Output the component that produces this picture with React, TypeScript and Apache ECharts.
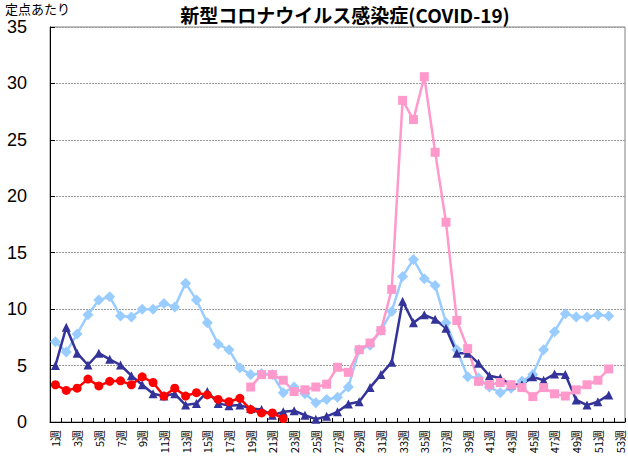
import React, { useEffect, useRef } from "react";
import * as echarts from "echarts";

const weeks: string[] = Array.from({ length: 53 }, (_, i) => `${i + 1}週`);

// light blue diamonds (weeks 1-52)
const seriesBlue: (number | null)[] = [
  7.1, 6.2, 7.8, 9.5, 10.8, 11.1, 9.4, 9.3, 10.0, 10.0, 10.5, 10.2, 12.3, 10.8, 8.8, 6.9, 6.4, 4.8, 4.2, 4.3,
  4.2, 2.6, 3.1, 2.5, 1.7, 2.0, 2.2, 3.1, 6.4, 6.8, 8.1, 9.8, 12.9, 14.4, 12.7, 12.1, 8.8, 6.4, 4.0, 3.9,
  3.1, 2.6, 3.0, 3.6, 4.2, 6.4, 8.0, 9.6, 9.3, 9.3, 9.5, 9.4, null,
];

// navy triangles (weeks 1-52)
const seriesNavy: (number | null)[] = [
  5.0, 8.4, 6.1, 5.05, 6.1, 5.55, 5.05, 4.1, 3.3, 2.5, 2.3, 2.5, 1.5, 1.65, 2.7, 1.65, 1.45, 1.5, 1.2, 1.1,
  0.6, 0.9, 1.0, 0.6, 0.25, 0.5, 0.9, 1.6, 1.8, 3.05, 4.2, 5.3, 10.7, 8.8, 9.5, 9.1, 8.3, 6.1, 6.1, 5.2,
  4.1, 3.9, 3.3, 3.3, 4.0, 3.7, 4.25, 4.2, 1.95, 1.5, 1.8, 2.4, null,
];

// pink squares (weeks 19-52)
const seriesPink: (number | null)[] = [
  null, null, null, null, null, null, null, null, null, null, null, null, null, null, null, null, null, null,
  3.1, 4.2, 4.2, 3.7, 2.7, 2.85, 3.1, 3.35, 4.85, 4.4, 6.4, 7.0, 8.1, 11.75, 28.5, 26.8, 30.6, 23.9, 17.7, 9.0,
  6.5, 3.6, 3.3, 3.5, 3.3, 3.05, 2.25, 3.05, 2.5, 2.3, 2.85, 3.3, 3.7, 4.7, null,
];

// red circles (weeks 1-22)
const seriesRed: (number | null)[] = [
  3.3, 2.8, 3.0, 3.8, 3.2, 3.6, 3.65, 3.3, 4.0, 3.5, 2.3, 3.0, 2.3, 2.6, 2.4, 2.0, 1.8, 2.1, 1.1, 0.8,
  0.8, 0.3,
];

const yTicks = [0, 5, 10, 15, 20, 25, 30, 35];

export default function App() {
  const ref = useRef<HTMLDivElement>(null);
  useEffect(() => {
    if (!ref.current) return;
    const chart = echarts.init(ref.current, null, { renderer: "svg" });
    const mk = (name: string, data: (number | null)[], color: string, symbol: string, size: number) => ({
      name,
      type: "line",
      data,
      symbol,
      symbolSize: size,
      showAllSymbol: true,
      lineStyle: { color, width: 2.5 },
      itemStyle: { color },
      connectNulls: false,
    });
    chart.setOption({
      animation: false,
      backgroundColor: "#ffffff",
      title: [
        {
          text: "新型コロナウイルス感染症(COVID-19)",
          left: 345,
          top: 3,
          padding: 0,
          textAlign: "center",
          textStyle: { fontSize: 19, fontWeight: "bold", color: "#000", fontFamily: "Noto Sans CJK JP", lineHeight: 22 },
        },
        {
          text: "定点あたり",
          left: 5,
          top: 1,
          padding: 0,
          textStyle: { fontSize: 13, fontWeight: "normal", color: "#000", fontFamily: "Noto Sans CJK JP", lineHeight: 14 },
        },
      ],
      grid: {
        left: 50,
        right: 3,
        top: 27,
        bottom: 39,
        show: true,
        borderColor: "#808080",
        borderWidth: 1,
      },
      xAxis: {
        type: "category",
        data: weeks,
        boundaryGap: true,
        axisLine: { show: true, lineStyle: { color: "#000", width: 1 } },
        axisTick: { show: true, inside: true, interval: 0, length: 4, lineStyle: { color: "#000" } },
        axisLabel: {
          interval: 1,
          rotate: 90,
          fontSize: 11,
          color: "#000",
          margin: 8,
          fontFamily: "Noto Sans CJK JP",
        },
        splitLine: { show: false },
      },
      yAxis: {
        type: "value",
        min: yTicks[0],
        max: yTicks[yTicks.length - 1],
        interval: 5,
        axisLine: { show: true, lineStyle: { color: "#000", width: 1 } },
        axisTick: { show: true, inside: true, length: 5, lineStyle: { color: "#000" } },
        axisLabel: { fontSize: 18, color: "#000", margin: 23, fontFamily: "Liberation Sans", lineHeight: 16 },
        splitLine: { show: true, lineStyle: { color: "#999", type: [2, 1], width: 1 } },
      },
      series: [
        mk("blue", seriesBlue, "#99ccff", "diamond", 11),
        mk("navy", seriesNavy, "#333399", "triangle", 9),
        mk("pink", seriesPink, "#ff99cc", "rect", 9),
        mk("red", seriesRed, "#ff0000", "circle", 9),
      ],
    });
    return () => chart.dispose();
  }, []);
  return <div ref={ref} style={{ width: 628, height: 461, position: "absolute", left: 0, top: 0 }} />;
}
